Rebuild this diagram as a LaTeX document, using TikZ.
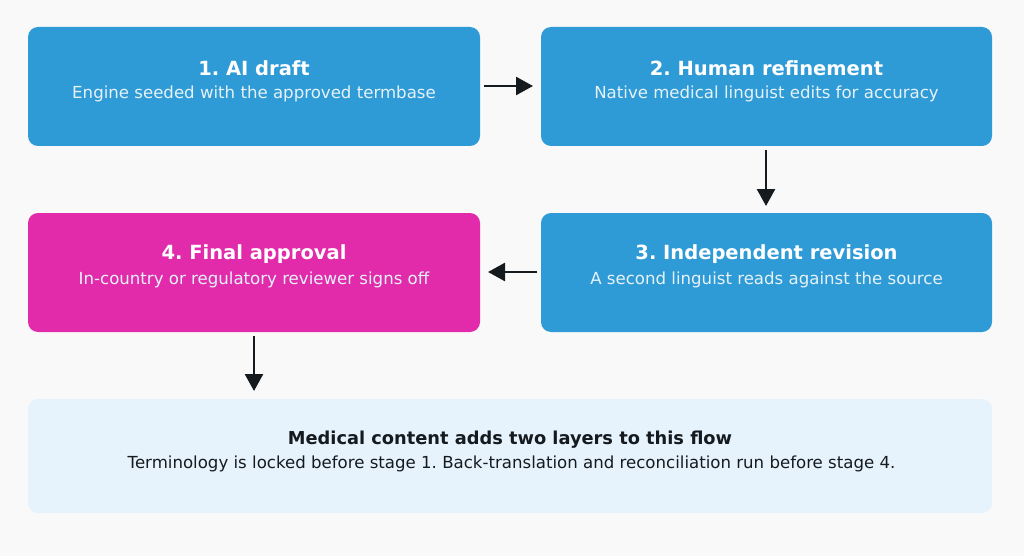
\documentclass[tikz,border=0pt]{standalone}
\usepackage{fontspec}
\setmainfont{DejaVu Sans}
\usetikzlibrary{arrows.meta}
\definecolor{bg}{HTML}{F9F9F9}
\definecolor{stageblue}{HTML}{2F9BD6}
\definecolor{stagepink}{HTML}{E22BAB}
\definecolor{notebg}{HTML}{E6F3FC}
\definecolor{ink}{HTML}{151A1F}
\definecolor{subwhite}{HTML}{E6F2FA}
\tikzset{
  stagebox/.style={rounded corners=10pt, draw=none},
  ttl/.style={font=\fontsize{19.5}{22}\selectfont\bfseries, text=white, inner sep=0pt},
  sub/.style={font=\fontsize{16.6}{19}\selectfont, text=subwhite, inner sep=0pt},
  flow/.style={draw=ink, line width=2.6pt, -{Triangle[length=17pt,width=18pt]}},
}
\frenchspacing
\begin{document}
\begin{tikzpicture}[x=1pt,y=-1pt]
\useasboundingbox (0,0) rectangle (1024,556);
\fill[bg] (0,0) rectangle (1024,556);
% boxes
\node[stagebox, fill=stageblue, minimum width=452pt, minimum height=119pt, inner sep=0pt] (s1) at (254,86.5) {};
\node[stagebox, fill=stageblue, minimum width=451pt, minimum height=119pt, inner sep=0pt] (s2) at (766.5,86.5) {};
\node[stagebox, fill=stageblue, minimum width=451pt, minimum height=119pt, inner sep=0pt] (s3) at (766.5,272.5) {};
\node[stagebox, fill=stagepink, minimum width=452pt, minimum height=119pt, inner sep=0pt] (s4) at (254,272.5) {};
\node[stagebox, fill=notebg, minimum width=964pt, minimum height=114pt, inner sep=0pt] (note) at (510,456) {};
% texts
\node[ttl] (t1) at (254,68) {1. AI draft};
\node[sub] (u1) at (254,93.5) {Engine seeded with the approved termbase};
\node[ttl] (t2) at (766.5,68) {2. Human refinement};
\node[sub] (u2) at (766.5,93.5) {Native medical linguist edits for accuracy};
\node[ttl] (t3) at (766.5,254) {3. Independent revision};
\node[sub] (u3) at (766.5,279.5) {A second linguist reads against the source};
\node[ttl] (t4) at (254,254) {4. Final approval};
\node[sub] (u4) at (254,279.5) {In-country or regulatory reviewer signs off};
\node[ttl, text=ink, font=\fontsize{17.8}{21}\selectfont\bfseries] (nt) at (510,439.5) {Medical content adds two layers to this flow};
\node[sub, text=ink] (nu) at (511.5,464) {Terminology is locked before stage 1. Back-translation and reconciliation run before stage 4.};
% connectors
\coordinate (a1s) at (484,86);
\coordinate (a1e) at (533,86);
\coordinate (a2s) at (766,150);
\coordinate (a2e) at (766,206);
\coordinate (a3s) at (537,272);
\coordinate (a3e) at (488,272);
\coordinate (a4s) at (254,336);
\coordinate (a4e) at (254,391);
\draw[flow] (a1s) -- (a1e);
\draw[flow] (a2s) -- (a2e);
\draw[flow] (a3s) -- (a3e);
\draw[flow] (a4s) -- (a4e);
\end{tikzpicture}
\end{document}
